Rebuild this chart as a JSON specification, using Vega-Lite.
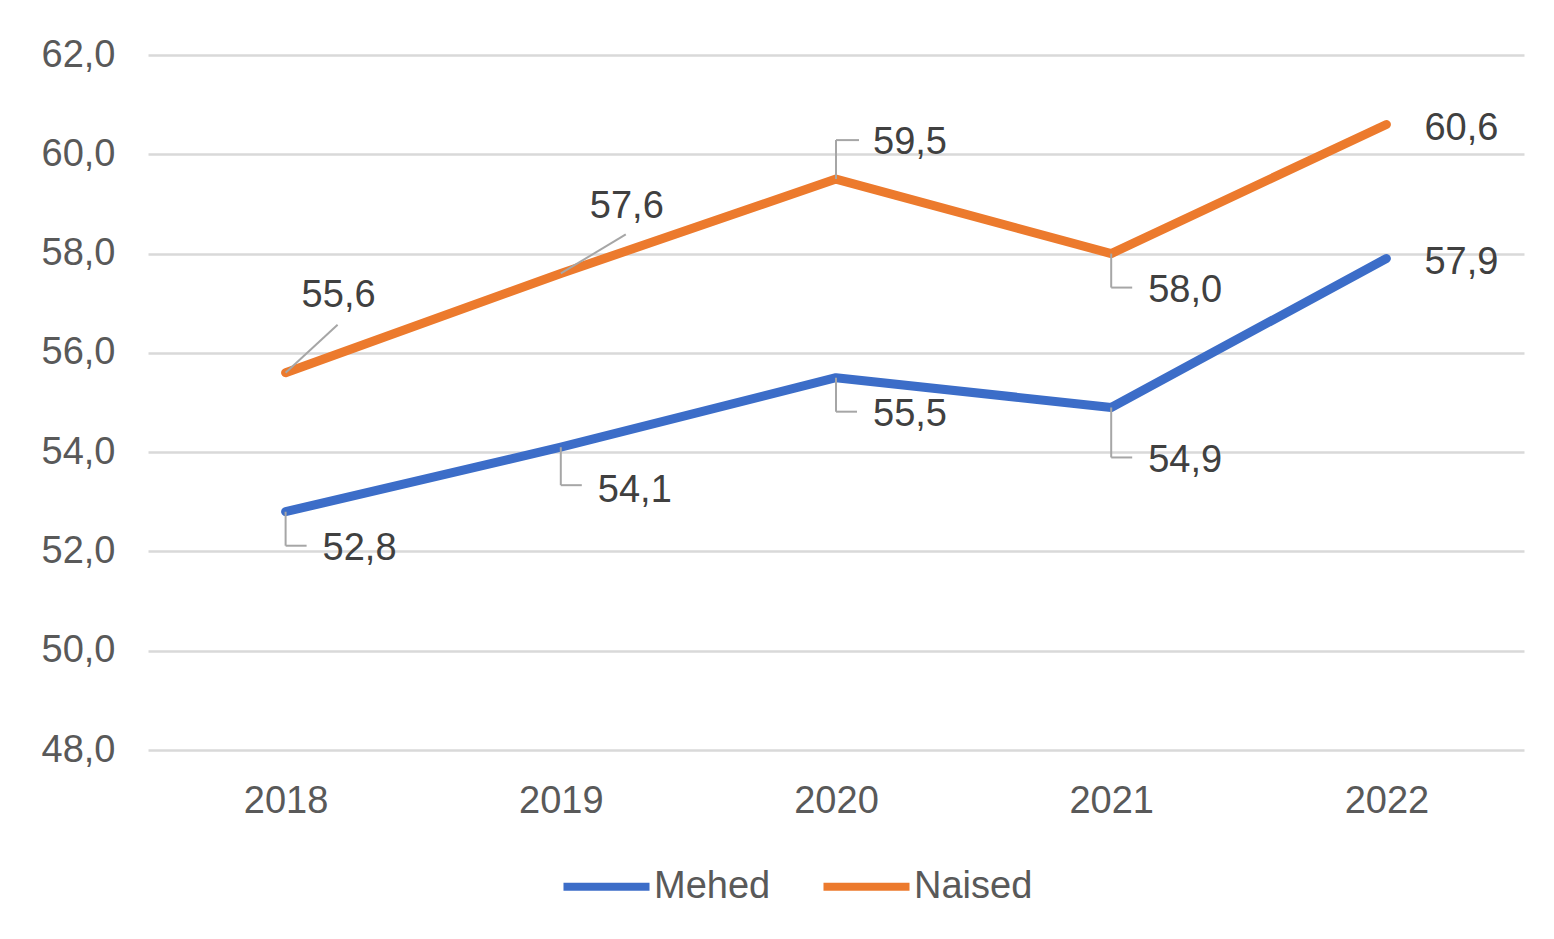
{
  "$schema": "https://vega.github.io/schema/vega-lite/v6.json",
  "width": 1376,
  "height": 695,
  "autosize": {"type": "none"},
  "padding": {"left": 148, "top": 55, "right": 30, "bottom": 189},
  "background": "white",
  "config": {
    "font": "Liberation Sans",
    "view": {"stroke": null},
    "locale": {"number": {"decimal": ",", "thousands": " ", "grouping": [3], "currency": ["", " €"]}}
  },
  "data": {
    "values": [
      {"year": "2018", "series": "Mehed", "value": 52.8, "pos": "below"},
      {"year": "2019", "series": "Mehed", "value": 54.1, "pos": "below3"},
      {"year": "2020", "series": "Mehed", "value": 55.5, "pos": "below"},
      {"year": "2021", "series": "Mehed", "value": 54.9, "pos": "below2"},
      {"year": "2022", "series": "Mehed", "value": 57.9, "pos": "right"},
      {"year": "2018", "series": "Naised", "value": 55.6, "pos": "diag1"},
      {"year": "2019", "series": "Naised", "value": 57.6, "pos": "diag2"},
      {"year": "2020", "series": "Naised", "value": 59.5, "pos": "above"},
      {"year": "2021", "series": "Naised", "value": 58.0, "pos": "below"},
      {"year": "2022", "series": "Naised", "value": 60.6, "pos": "right"}
    ]
  },
  "encoding": {
    "x": {
      "field": "year", "type": "ordinal",
      "scale": {"type": "point", "padding": 0.5},
      "axis": {"title": null, "domain": false, "ticks": false, "labelAngle": 0, "labelFontSize": 38, "labelColor": "#595959", "labelPadding": 32, "grid": false}
    },
    "y": {
      "field": "value", "type": "quantitative",
      "scale": {"domain": [48, 62], "nice": false, "zero": false},
      "axis": {"title": null, "domain": false, "ticks": false, "values": [48, 50, 52, 54, 56, 58, 60, 62], "format": ".1f", "labelFontSize": 38, "labelColor": "#595959", "labelPadding": 33, "grid": true, "gridColor": "#d9d9d9", "gridWidth": 2.5}
    }
  },
  "layer": [
    {
      "mark": {"type": "line", "strokeWidth": 9, "strokeCap": "round", "strokeJoin": "round"},
      "encoding": {
        "color": {
          "field": "series", "type": "nominal",
          "scale": {"domain": ["Mehed", "Naised"], "range": ["#3C6DC8", "#EC7A2D"]},
          "legend": {"title": null, "orient": "none", "direction": "horizontal", "legendX": 411, "legendY": 784, "symbolType": "stroke", "symbolSize": 7400, "symbolStrokeWidth": 8, "labelFontSize": 38, "labelColor": "#595959", "labelOffset": 0, "columnPadding": 36}
        }
      }
    },
    {
      "transform": [{"filter": "datum.pos === 'below'"}],
      "mark": {"type": "rule", "color": "#a6a6a6", "strokeWidth": 2, "y2Offset": 34},
      "encoding": {"y2": {"field": "value"}}
    },
    {
      "transform": [{"filter": "datum.pos === 'below'"}],
      "mark": {"type": "rule", "color": "#a6a6a6", "strokeWidth": 2, "yOffset": 34, "x2Offset": 21},
      "encoding": {"x2": {"field": "year"}}
    },
    {
      "transform": [{"filter": "datum.pos === 'below3'"}],
      "mark": {"type": "rule", "color": "#a6a6a6", "strokeWidth": 2, "y2Offset": 38},
      "encoding": {"y2": {"field": "value"}}
    },
    {
      "transform": [{"filter": "datum.pos === 'below3'"}],
      "mark": {"type": "rule", "color": "#a6a6a6", "strokeWidth": 2, "yOffset": 38, "x2Offset": 21},
      "encoding": {"x2": {"field": "year"}}
    },
    {
      "transform": [{"filter": "datum.pos === 'below2'"}],
      "mark": {"type": "rule", "color": "#a6a6a6", "strokeWidth": 2, "y2Offset": 50},
      "encoding": {"y2": {"field": "value"}}
    },
    {
      "transform": [{"filter": "datum.pos === 'below2'"}],
      "mark": {"type": "rule", "color": "#a6a6a6", "strokeWidth": 2, "yOffset": 50, "x2Offset": 21},
      "encoding": {"x2": {"field": "year"}}
    },
    {
      "transform": [{"filter": "datum.pos === 'above'"}],
      "mark": {"type": "rule", "color": "#a6a6a6", "strokeWidth": 2, "y2Offset": -39},
      "encoding": {"y2": {"field": "value"}}
    },
    {
      "transform": [{"filter": "datum.pos === 'above'"}],
      "mark": {"type": "rule", "color": "#a6a6a6", "strokeWidth": 2, "yOffset": -39, "x2Offset": 23},
      "encoding": {"x2": {"field": "year"}}
    },
    {
      "transform": [{"filter": "datum.pos === 'diag1'"}],
      "mark": {"type": "rule", "color": "#a6a6a6", "strokeWidth": 2, "x2Offset": 52, "y2Offset": -48},
      "encoding": {"x2": {"field": "year"}, "y2": {"field": "value"}}
    },
    {
      "transform": [{"filter": "datum.pos === 'diag2'"}],
      "mark": {"type": "rule", "color": "#a6a6a6", "strokeWidth": 2, "x2Offset": 65, "y2Offset": -39},
      "encoding": {"x2": {"field": "year"}, "y2": {"field": "value"}}
    },
    {
      "transform": [{"filter": "datum.pos === 'below'"}],
      "mark": {"type": "text", "align": "left", "baseline": "middle", "dx": 37, "dy": 37, "fontSize": 38, "color": "#404040"},
      "encoding": {"text": {"field": "value", "type": "quantitative", "format": ".1f"}}
    },
    {
      "transform": [{"filter": "datum.pos === 'below3'"}],
      "mark": {"type": "text", "align": "left", "baseline": "middle", "dx": 37, "dy": 44, "fontSize": 38, "color": "#404040"},
      "encoding": {"text": {"field": "value", "type": "quantitative", "format": ".1f"}}
    },
    {
      "transform": [{"filter": "datum.pos === 'below2'"}],
      "mark": {"type": "text", "align": "left", "baseline": "middle", "dx": 37, "dy": 54, "fontSize": 38, "color": "#404040"},
      "encoding": {"text": {"field": "value", "type": "quantitative", "format": ".1f"}}
    },
    {
      "transform": [{"filter": "datum.pos === 'above'"}],
      "mark": {"type": "text", "align": "left", "baseline": "middle", "dx": 37, "dy": -36, "fontSize": 38, "color": "#404040"},
      "encoding": {"text": {"field": "value", "type": "quantitative", "format": ".1f"}}
    },
    {
      "transform": [{"filter": "datum.pos === 'right'"}],
      "mark": {"type": "text", "align": "left", "baseline": "middle", "dx": 38, "dy": 4, "fontSize": 38, "color": "#404040"},
      "encoding": {"text": {"field": "value", "type": "quantitative", "format": ".1f"}}
    },
    {
      "transform": [{"filter": "datum.pos === 'diag1'"}],
      "mark": {"type": "text", "align": "center", "baseline": "middle", "dx": 53, "dy": -77, "fontSize": 38, "color": "#404040"},
      "encoding": {"text": {"field": "value", "type": "quantitative", "format": ".1f"}}
    },
    {
      "transform": [{"filter": "datum.pos === 'diag2'"}],
      "mark": {"type": "text", "align": "center", "baseline": "middle", "dx": 66, "dy": -66, "fontSize": 38, "color": "#404040"},
      "encoding": {"text": {"field": "value", "type": "quantitative", "format": ".1f"}}
    }
  ]
}
